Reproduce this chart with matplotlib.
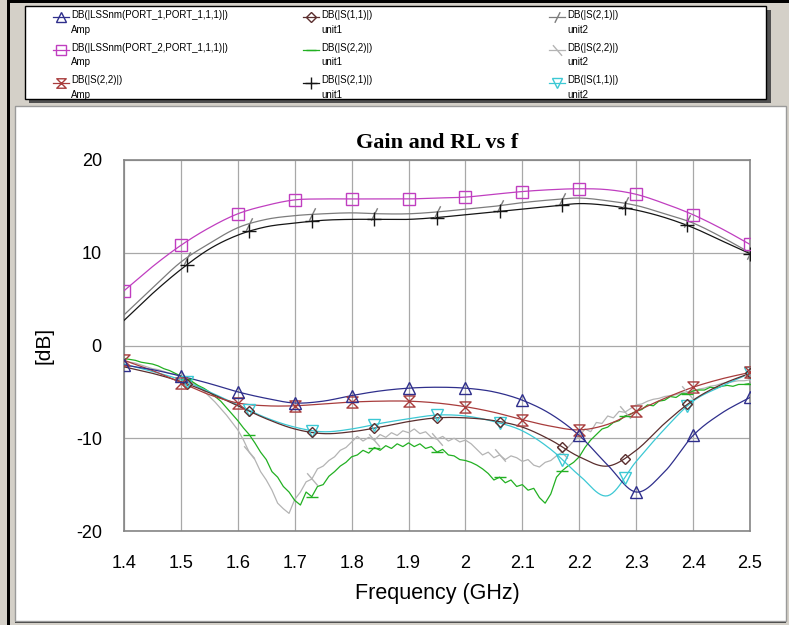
import numpy as np
import matplotlib
matplotlib.use("Agg")
import matplotlib.pyplot as plt
from matplotlib.lines import Line2D
from matplotlib.patches import Rectangle
from matplotlib.path import Path

# ---------------- data ----------------
freq = np.round(np.arange(1.40, 2.5001, 0.05), 2)          # 23 points, smooth traces
freq_fine = np.round(np.arange(1.40, 2.5001, 0.01), 2)     # 111 points, noisy traces
unit_marker_freq = [1.51, 1.62, 1.73, 1.84, 1.95, 2.06, 2.17, 2.28, 2.39, 2.50]

lss11_amp = [-2.1, -2.6, -3.3, -4.1, -5.0, -5.7, -6.2, -6.0, -5.4, -4.9, -4.6, -4.5,
             -4.6, -5.0, -5.9, -7.4, -9.7, -12.9, -15.8, -13.6, -9.7, -7.3, -5.6]
lss21_amp = [5.9, 8.5, 10.8, 12.7, 14.2, 15.1, 15.7, 15.8, 15.8, 15.8, 15.8, 15.9,
             16.0, 16.3, 16.6, 16.8, 16.9, 16.8, 16.3, 15.3, 14.1, 12.6, 10.9]
s22_amp = [-1.6, -2.7, -4.0, -5.3, -6.2, -6.5, -6.5, -6.3, -6.1, -6.0, -6.0, -6.2,
           -6.6, -7.2, -8.0, -8.7, -9.1, -8.5, -7.1, -5.7, -4.5, -3.6, -2.9]
s11_unit1 = [-2.3, -3.0, -3.9, -5.1, -6.5, -7.9, -9.0, -9.5, -9.3, -8.8, -8.2, -7.8,
             -7.8, -8.1, -8.8, -10.2, -12.0, -13.0, -11.3, -8.4, -5.9, -4.2, -3.0]
s21_unit1 = [2.7, 5.6, 8.2, 10.4, 11.9, 12.8, 13.2, 13.5, 13.6, 13.6, 13.6, 13.8,
             14.1, 14.4, 14.7, 15.0, 15.3, 15.1, 14.6, 13.8, 12.7, 11.3, 9.9]
s21_unit2 = [3.3, 6.2, 9.0, 11.0, 12.7, 13.6, 14.0, 14.2, 14.3, 14.2, 14.2, 14.4,
             14.7, 15.0, 15.4, 15.7, 15.9, 15.6, 15.1, 14.2, 13.2, 11.7, 10.0]
s11_unit2 = [-2.0, -2.8, -3.7, -5.0, -6.4, -7.8, -8.8, -9.3, -9.0, -8.4, -7.9, -7.5,
             -7.6, -8.2, -9.2, -11.2, -14.0, -16.2, -12.5, -9.0, -6.0, -4.4, -3.0]

s22_unit1 = [-1.4, -1.5, -1.6, -1.8, -1.9, -2.0, -2.2, -2.5, -2.7, -3.0,
             -3.3, -3.6, -3.9, -4.3, -4.6, -5.0, -5.5, -6.0, -6.7, -7.4,
             -8.1, -8.9, -9.6, -10.5, -11.5, -12.3, -13.6, -14.2, -15.2, -15.8,
             -16.7, -17.2, -15.8, -16.3, -15.2, -15.0, -14.1, -13.6, -13.0, -12.6,
             -12.0, -11.8, -11.3, -11.6, -11.0, -11.3, -10.8, -11.1, -10.6, -10.9,
             -10.5, -10.9, -10.6, -11.1, -10.9, -11.5, -11.2, -11.8, -11.9, -12.3,
             -12.4, -12.6, -12.9, -13.3, -13.8, -14.5, -14.2, -14.8, -14.5, -15.2,
             -15.0, -15.6, -15.4, -16.4, -17.0, -16.0, -14.2, -13.5, -13.0, -12.6,
             -12.0, -11.0, -10.2, -9.6, -9.0, -8.8, -8.3, -8.1, -7.6, -7.4,
             -7.1, -6.9, -6.4, -6.5, -6.0, -5.9, -5.5, -5.6, -5.2, -5.2,
             -4.9, -4.8, -4.8, -4.5, -4.6, -4.4, -4.3, -4.4, -4.2, -4.2,
             -4.1]
s22_unit2 = [-1.6, -1.8, -1.9, -2.1, -2.3, -2.5, -2.6, -2.8, -3.0, -3.1,
             -3.3, -3.6, -4.0, -4.4, -4.9, -5.5, -6.1, -6.8, -7.5, -8.3,
             -9.1, -10.2, -11.5, -12.3, -13.6, -14.5, -15.6, -17.0, -17.6, -18.1,
             -16.6, -15.8, -14.7, -14.4, -13.3, -13.0, -12.4, -12.0, -11.3, -11.0,
             -10.4, -9.8, -10.3, -9.9, -10.2, -9.6, -9.9, -9.4, -9.7, -9.2,
             -9.4, -9.0, -9.5, -9.3, -9.9, -10.1, -9.8, -10.3, -10.0, -10.4,
             -10.2, -10.6, -11.2, -11.8, -11.5, -12.1, -11.8, -12.3, -11.9, -12.1,
             -12.5, -12.3, -12.9, -13.1, -12.6, -12.4, -11.9, -11.5, -11.0, -10.3,
             -9.8, -9.0, -9.3, -8.3, -8.4, -7.6, -7.8, -7.1, -7.2, -6.8,
             -6.4, -6.3, -6.0, -5.8, -5.7, -5.5, -5.4, -5.3, -5.1, -5.0,
             -4.9, -4.7, -4.6, -4.4, -4.3, -4.1, -4.0, -3.9, -3.8, -3.8,
             -3.7]

x_ticks = [1.4, 1.5, 1.6, 1.7, 1.8, 1.9, 2.0, 2.1, 2.2, 2.3, 2.4, 2.5]
x_ticklabels = ["1.4", "1.5", "1.6", "1.7", "1.8", "1.9", "2", "2.1", "2.2", "2.3", "2.4", "2.5"]
y_ticks = [-20, -10, 0, 10, 20]
y_ticklabels = ["-20", "-10", "0", "10", "20"]

labels = {
    "lss11": "DB(|LSSnm(PORT_1,PORT_1,1,1)|)\nAmp",
    "lss21": "DB(|LSSnm(PORT_2,PORT_1,1,1)|)\nAmp",
    "s22a": "DB(|S(2,2)|)\nAmp",
    "s11u1": "DB(|S(1,1)|)\nunit1",
    "s22u1": "DB(|S(2,2)|)\nunit1",
    "s21u1": "DB(|S(2,1)|)\nunit1",
    "s21u2": "DB(|S(2,1)|)\nunit2",
    "s22u2": "DB(|S(2,2)|)\nunit2",
    "s11u2": "DB(|S(1,1)|)\nunit2",
}

# ---------------- helpers ----------------
def smooth(x, y, n=12):
    x = np.asarray(x, float); y = np.asarray(y, float)
    yp = np.concatenate([[2 * y[0] - y[1]], y, [2 * y[-1] - y[-2]]])
    t = np.linspace(0, 1, n, endpoint=False)
    xs, ys = [], []
    for i in range(len(x) - 1):
        p0, p1, p2, p3 = yp[i:i + 4]
        ys.append(0.5 * (2 * p1 + (-p0 + p2) * t + (2 * p0 - 5 * p1 + 4 * p2 - p3) * t ** 2
                         + (-p0 + 3 * p1 - 3 * p2 + p3) * t ** 3))
        xs.append(x[i] + (x[i + 1] - x[i]) * t)
    xs.append([x[-1]]); ys.append([y[-1]])
    return np.concatenate(xs), np.concatenate(ys)

hourglass = Path([(-1, 1), (1, 1), (-1, -1), (1, -1), (-1, 1)],
                 [Path.MOVETO, Path.LINETO, Path.LINETO, Path.LINETO, Path.CLOSEPOLY])
slash = Path([(-0.5, -1), (0.5, 1)], [Path.MOVETO, Path.LINETO])
backslash = Path([(-0.6, 0.7), (0.6, -0.7)], [Path.MOVETO, Path.LINETO])

styles = {
    "lss11": dict(color="#2f2f8c", marker="^", ms=8),
    "lss21": dict(color="#c03ec0", marker="s", ms=8.5),
    "s22a": dict(color="#a83c3c", marker=hourglass, ms=8),
    "s11u1": dict(color="#5a2e2e", marker="D", ms=5.5),
    "s22u1": dict(color="#22b022", marker="_", ms=9),
    "s21u1": dict(color="#151515", marker="+", ms=10),
    "s21u2": dict(color="#7c7c7c", marker=slash, ms=9),
    "s22u2": dict(color="#b4b4b4", marker=backslash, ms=9),
    "s11u2": dict(color="#3cc8d4", marker="v", ms=8),
}

W, H = 789, 625
fig = plt.figure(figsize=(W / 100, H / 100), dpi=100)
fig.patch.set_facecolor("#d4d0c8")

def frect(x0, y0, x1, y1, **kw):
    r = Rectangle((x0 / W, 1 - y1 / H), (x1 - x0) / W, (y1 - y0) / H,
                  transform=fig.transFigure, **kw)
    fig.add_artist(r)
    return r

# window frame lines
frect(7, 0, 10, H, facecolor="black", edgecolor="none", zorder=-9)
frect(7, 0, W, 3, facecolor="black", edgecolor="none", zorder=-9)
# legend panel with shadow
frect(29, 10, 771, 103, facecolor="#505050", edgecolor="none", zorder=-8)
frect(25, 6, 766, 99, facecolor="white", edgecolor="black", lw=1, zorder=-7)
# plot panel
frect(15, 106, 786, 623, facecolor="#404040", edgecolor="none", zorder=-8)
frect(15, 106, 786, 621, facecolor="white", edgecolor="#9a9a9a", lw=1, zorder=-7)

# ---------------- axes ----------------
ax = fig.add_axes([124 / W, 1 - 531 / H, 626 / W, 371 / H])
ax.set_facecolor("white")

def draw_smooth(key, y, mark_x):
    st = styles[key]
    xs, ys = smooth(freq, y)
    ax.plot(xs, ys, color=st["color"], lw=0.9, zorder=3)
    my = np.interp(mark_x, xs, ys)
    ax.plot(mark_x, my, ls="none", marker=st["marker"], ms=st["ms"], mfc="none",
            mec=st["color"], mew=1.0, zorder=4)

def draw_noisy(key, y, mark_x):
    st = styles[key]
    ax.plot(freq_fine, y, color=st["color"], lw=0.9, zorder=2)
    my = np.interp(mark_x, freq_fine, y)
    ax.plot(mark_x, my, ls="none", marker=st["marker"], ms=st["ms"], mfc="none",
            mec=st["color"], mew=1.0, zorder=4)

amp_mark_x = freq[::2]
draw_noisy("s22u2", s22_unit2, unit_marker_freq)
draw_noisy("s22u1", s22_unit1, unit_marker_freq)
draw_smooth("s21u2", s21_unit2, unit_marker_freq)
draw_smooth("s21u1", s21_unit1, unit_marker_freq)
draw_smooth("s11u2", s11_unit2, unit_marker_freq)
draw_smooth("s11u1", s11_unit1, unit_marker_freq)
draw_smooth("s22a", s22_amp, amp_mark_x)
draw_smooth("lss21", lss21_amp, amp_mark_x)
draw_smooth("lss11", lss11_amp, amp_mark_x)

ax.set_xlim(1.4, 2.5)
ax.set_ylim(-20, 20)
ax.set_xticks(x_ticks)
ax.set_xticklabels(x_ticklabels, family="Liberation Sans", fontsize=13)
ax.set_yticks(y_ticks)
ax.set_yticklabels(y_ticklabels, family="Liberation Sans", fontsize=13)
ax.tick_params(axis="both", length=0)
ax.tick_params(axis="x", pad=17)
ax.tick_params(axis="y", pad=16)
ax.grid(True, color="#a8a8a8", lw=0.9)
ax.set_axisbelow(True)
for sp in ax.spines.values():
    sp.set_color("#858585")
    sp.set_linewidth(1.2)

ax.set_title("Gain and RL vs f", family="Liberation Serif", fontweight="bold",
             fontsize=16, pad=9)
ax.set_xlabel("Frequency (GHz)", family="Liberation Sans", fontsize=15.5, labelpad=8)
ax.set_ylabel("[dB]", family="Liberation Sans", fontsize=15, labelpad=16)

# ---------------- legend (three columns) ----------------
columns = [(["lss11", "lss21", "s22a"], 53),
           (["s11u1", "s22u1", "s21u1"], 303),
           (["s21u2", "s22u2", "s11u2"], 549)]
for keys, xpx in columns:
    handles = []
    for k in keys:
        st = styles[k]
        handles.append(Line2D([], [], color=st["color"], lw=0.9, marker=st["marker"],
                              ms=st["ms"] * 0.85, mfc="none", mec=st["color"], mew=1.0))
    leg = fig.legend(handles, [labels[k] for k in keys], loc="upper left",
                     bbox_to_anchor=(xpx / W, 1 - 10 / H), frameon=False,
                     prop={"family": "Liberation Sans", "size": 7},
                     handlelength=1.6, handletextpad=0.3, borderpad=0,
                     borderaxespad=0, labelspacing=0.8, markerscale=1.0)
    for t in leg.get_texts():
        t.set_linespacing(1.6)
    # put each legend symbol level with the first text line
    for ln in leg.legend_handles:
        ln.set_ydata(np.asarray(ln.get_ydata(), float) + 4.0)

fig.savefig("out.png", dpi=100, facecolor=fig.get_facecolor())
